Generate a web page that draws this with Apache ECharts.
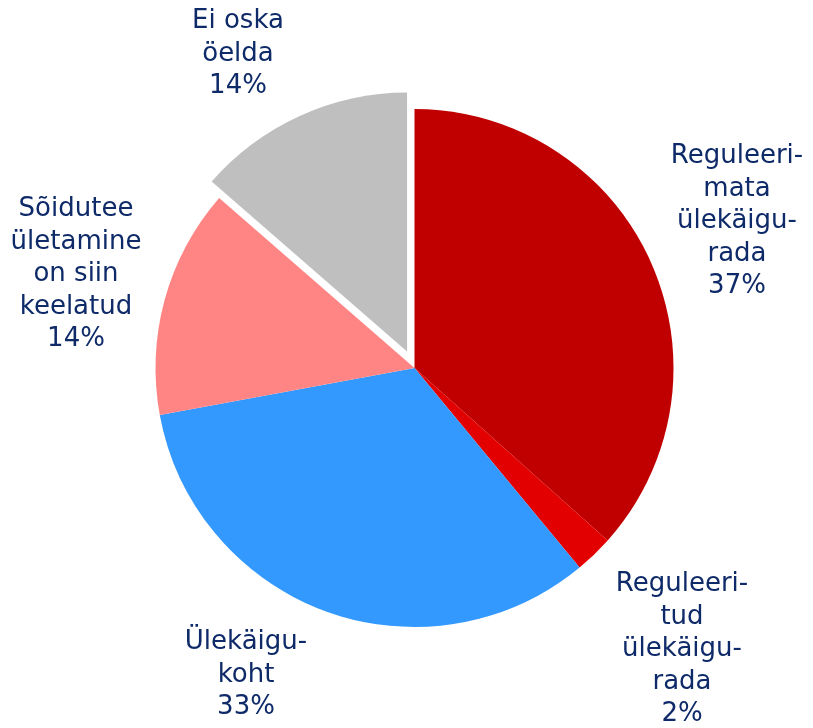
<!DOCTYPE html>
<html>
<head>
<meta charset="utf-8">
<script src="https://cdn.jsdelivr.net/npm/echarts@6/dist/echarts.min.js"></script>
<style>
  html, body { margin: 0; padding: 0; background: #ffffff; }
  #chart { width: 813px; height: 728px; }
</style>
</head>
<body>
<div id="chart"></div>
<script>
// Categories (with the line breaks used in the labels)
var categories = [
  'Reguleeri-\nmata\nülekäigu-\nrada',
  'Reguleeri-\ntud\nülekäigu-\nrada',
  'Ülekäigu-\nkoht',
  'Sõidutee\nületamine\non siin\nkeelatud',
  'Ei oska\nöelda'
];
// Share of answers, percent
var shares = [36.6, 2.4, 33.1, 14.3, 13.6];
// Slice pulled out of the pie
var explodedIndex = 4;

// Slice colours
var sliceColors = ['#C00000', '#E20000', '#3399FF', '#FF8585', '#BFBFBF'];
// Label anchor points (centre x, top y of each text block)
var labelAnchors = [[737, 140], [682, 568], [246, 626], [76, 193], [238, 5]];

var pieCenter = [414.5, 368];
var pieRadius = 259;
var explodeDistance = 18;

// Direction of the pulled-out slice: bisector angle, clockwise from 12 o'clock
var total = shares.reduce(function (s, v) { return s + v; }, 0);
var before = shares.slice(0, explodedIndex).reduce(function (s, v) { return s + v; }, 0);
var midAngle = (before + shares[explodedIndex] / 2) / total * 2 * Math.PI;
var explodedCenter = [
  pieCenter[0] + explodeDistance * Math.sin(midAngle),
  pieCenter[1] - explodeDistance * Math.cos(midAngle)
];

var chart = echarts.init(document.getElementById('chart'), null, { renderer: 'canvas' });

// Main pie: every slice except the pulled-out one is painted here, all labels too
var mainData = categories.map(function (name, i) {
  return {
    name: name,
    value: shares[i],
    itemStyle: { color: i === explodedIndex ? 'rgba(0,0,0,0)' : sliceColors[i] }
  };
});
// Second pie: only the pulled-out slice, shifted along its bisector
var explodedData = categories.map(function (name, i) {
  return {
    name: name,
    value: shares[i],
    itemStyle: { color: i === explodedIndex ? sliceColors[i] : 'rgba(0,0,0,0)' }
  };
});

var common = {
  type: 'pie',
  radius: pieRadius,
  startAngle: 90,
  clockwise: true,
  selectedMode: false,
  avoidLabelOverlap: false,
  emphasis: { disabled: true },
  itemStyle: { borderWidth: 0 }
};

chart.setOption({
  animation: false,
  backgroundColor: '#ffffff',
  series: [
    Object.assign({}, common, {
      center: pieCenter,
      label: {
        show: true,
        position: 'outside',
        color: '#0E2A68',
        fontFamily: '"DejaVu Sans", Verdana, sans-serif',
        fontSize: 26,
        lineHeight: 32.5,
        align: 'center',
        formatter: function (p) {
          return p.name + '\n' + Math.round(p.percent) + '%';
        }
      },
      labelLine: { show: false },
      labelLayout: function (params) {
        var a = labelAnchors[params.dataIndex];
        return { x: a[0], y: a[1], align: 'center', verticalAlign: 'top' };
      },
      data: mainData
    }),
    Object.assign({}, common, {
      center: explodedCenter,
      silent: true,
      label: { show: false },
      labelLine: { show: false },
      data: explodedData
    })
  ]
});
</script>
</body>
</html>
